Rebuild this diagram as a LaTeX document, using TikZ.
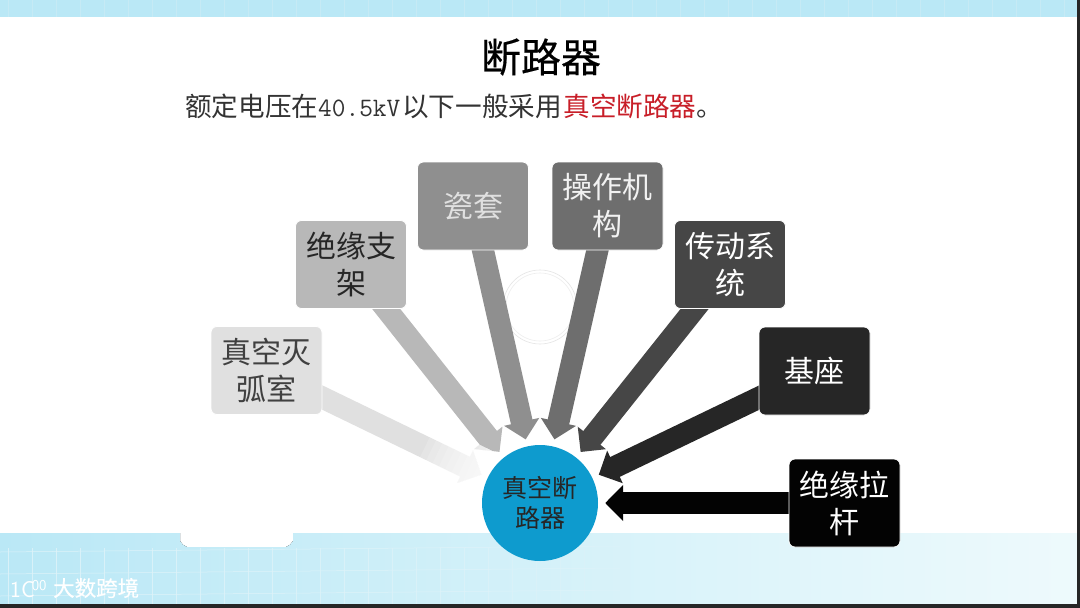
\documentclass[tikz,border=0pt]{standalone}
\usepackage{fontspec}
\newfontfamily\cjk{Noto Sans CJK SC}
\newfontfamily\cjkb[FakeBold=0.4]{Noto Sans CJK SC}
\usepackage{xcolor}
\definecolor{bandablue}{RGB}{186, 232, 246}
\definecolor{bandbblue}{RGB}{238, 250, 252}
\definecolor{gridblue}{RGB}{160, 220, 238}
\definecolor{azulcirc}{RGB}{14, 155, 206}
\definecolor{rojotxt}{RGB}{200, 30, 40}
\definecolor{partea}{RGB}{224, 224, 224}
\definecolor{parteb}{RGB}{184, 184, 184}
\definecolor{partec}{RGB}{143, 143, 143}
\definecolor{parted}{RGB}{110, 110, 110}
\definecolor{partee}{RGB}{70, 70, 70}
\definecolor{partef}{RGB}{38, 38, 38}
\definecolor{parteg}{RGB}{3, 3, 3}
\usetikzlibrary{arrows.meta, backgrounds}

\begin{document}
\begin{tikzpicture}[
  x=1pt, y=-1pt,
  part/.style={rectangle, rounded corners=6pt, draw=white, line width=0.8pt, minimum width=111pt, minimum height=88pt, inner sep=0pt, align=center, font=\cjk\fontsize{30}{37}\selectfont},
  hub/.style={circle, fill=azulcirc, minimum size=116pt, inner sep=0pt, align=center, text=black!85, font=\cjk\fontsize{25}{30}\selectfont},
  feed/.style={line width=22pt, shorten >=7pt, -{Triangle[length=18pt, width=35pt]}}
]
  \useasboundingbox (0,0) rectangle (1080,608);

  % bands
  \begin{scope}[on background layer]
  \fill[white] (0,0) rectangle (1080,608);
  \fill[bandablue] (0,0) rectangle (1080,17);
  \fill[left color=bandablue, right color=bandbblue] (0,533) -- (180,533) -- (180,541) to[bend right=20] (187,547) -- (286,547) to[bend right=20] (293,541) -- (293,533) -- (1080,533) -- (1080,604) -- (0,604) -- cycle;
  \foreach \i in {0,...,44} {
    \draw[gridblue!60, line width=0.5pt] ({\i*24+8},0) -- ({\i*24+8},17);
  }
  \foreach \i in {0,...,24} {
    \draw[gridblue!40, line width=0.5pt] ({\i*24+8},548) -- ({\i*24+8},604);
  }
  \foreach \i in {0,...,2}
    \draw[gridblue!35, line width=0.5pt] (0,{\i*22+552}) -- (620,{\i*22+546});
  \fill[black!85] (0,604) rectangle (1080,608);
  \fill[black!85] (1077,0) rectangle (1080,608);

  % faint stamp
  \draw[black!10, line width=0.6pt] (540,307) circle[radius=37pt];
  \draw[black!7, line width=0.6pt] (540,307) circle[radius=34pt];
  \end{scope}

  % texts
  \node (title) at (541,57) {\cjkb\fontsize{40}{48}\selectfont 断路器};
  \node[anchor=west, inner sep=0pt, text=black!80] (lead) at (185,106) {\cjk\fontsize{26.6}{32}\selectfont 额定电压在{\ttfamily 40.5kV}\kern2pt 以下一般采用\kern1.5pt\textcolor{rojotxt}{真空断路器}。};
  \node[anchor=west, inner sep=0pt, text=white] (logo) at (53,588) {\cjkb\fontsize{21.5}{24}\selectfont 大数跨境};
  \node[anchor=west, inner sep=0pt, text=white] (mark) at (10,589) {\sffamily\fontsize{23}{24}\selectfont 1C\kern-3pt\raisebox{7pt}{\fontsize{15}{15}\selectfont 00}};

  % parts
  \node[part, fill=partea, text=black!75] (vac) at (266.5,370.5) {真空灭\\弧室};
  \node[part, fill=parteb, text=black!85] (sup) at (351,264.5) {绝缘支\\架};
  \node[part, fill=partec, text=white!88!black] (bush) at (473,206) {瓷套};
  \node[part, fill=parted, text=white!95!black] (mech) at (607.5,206) {操作机\\构};
  \node[part, fill=partee, text=white] (trans) at (730,264.5) {传动系\\统};
  \node[part, fill=partef, text=white] (base) at (814.5,371) {基座};
  \node[part, fill=parteg, text=white] (rod) at (844.5,503) {绝缘拉\\杆};
  \node[hub] (brk) at (540,503) {真空断\\路器};

  % arrows
  \begin{scope}[on background layer]
  \draw[feed, partea] (vac.center) -- (brk);
  \draw[feed, parteb] (sup.center) -- (brk);
  \draw[feed, partec] (bush.center) -- (brk);
  \draw[feed, parted] (mech.center) -- (brk);
  \draw[feed, partee] (trans.center) -- (brk);
  \draw[feed, partef] (base.center) -- (brk);
  \draw[feed, parteg] (rod.center) -- (brk);
  % first arrow washes out toward its tip
  \path (vac) -- (brk) coordinate[pos=0.62] (vacfade);
  \foreach \i in {0,...,11}
    \fill[white, opacity=0.17, shift={(vacfade)}, rotate=-25.8] ({\i*7},-26) rectangle (105,26);
  \end{scope}
\end{tikzpicture}
\end{document}
